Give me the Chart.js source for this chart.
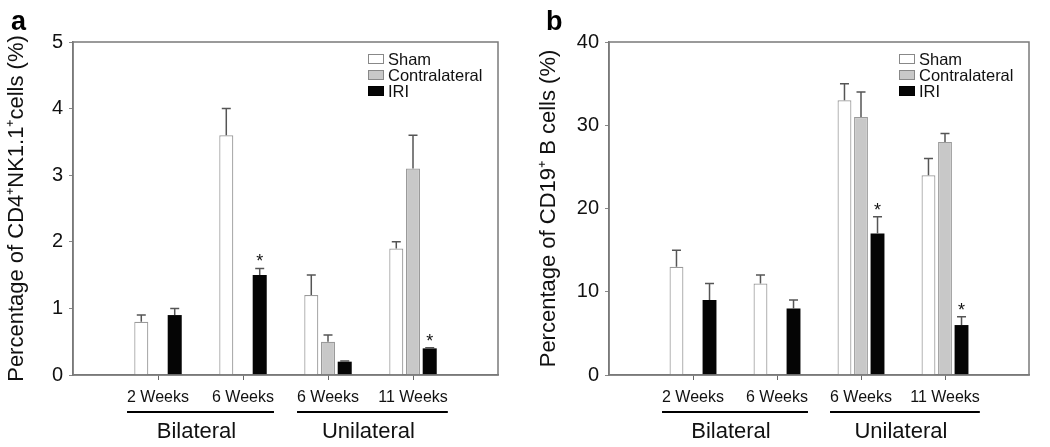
<!DOCTYPE html>
<html>
<head>
<meta charset="utf-8">
<script src="https://cdn.jsdelivr.net/npm/chart.js@4.4.1/dist/chart.umd.min.js"></script>
<style>
  html, body { margin: 0; padding: 0; background: #fff; }
  .panel { position: absolute; top: 0; height: 447px; }
  #panelA { left: 0; width: 520px; }
  #panelB { left: 520px; width: 530px; }
</style>
</head>
<body>
<div class="panel" id="panelA"><canvas id="chartA"></canvas></div>
<div class="panel" id="panelB"><canvas id="chartB"></canvas></div>
<script>
// categories
const weekLabels = ['2 Weeks', '6 Weeks', '6 Weeks', '11 Weeks'];
const groupLabels = ['Bilateral', 'Unilateral'];
const groupSpans = [[0, 1], [2, 3]];
const seriesNames = ['Sham', 'Contralateral', 'IRI'];

// panel a: CD4+NK1.1+ cells (%)
const nkSham = [0.8, 3.6, 1.2, 1.9];
const nkShamErr = [0.1, 0.4, 0.3, 0.1];
const nkContra = [null, null, 0.5, 3.1];
const nkContraErr = [null, null, 0.1, 0.5];
const nkIri = [0.9, 1.5, 0.2, 0.4];
const nkIriErr = [0.1, 0.1, 0.01, 0.01];
const nkIriStar = [false, true, false, true];
const nkTicks = { min: 0, max: 5, step: 1 };

// panel b: CD19+ B cells (%)
const bSham = [13, 11, 33, 24];
const bShamErr = [2, 1, 2, 2];
const bContra = [null, null, 31, 28];
const bContraErr = [null, null, 3, 1];
const bIri = [9, 8, 17, 6];
const bIriErr = [2, 1, 2, 1];
const bIriStar = [false, false, true, true];
const bTicks = { min: 0, max: 40, step: 10 };

const FONT = '"Liberation Sans", Arial, Helvetica, sans-serif';
const pad = arr => [null, ...arr, null];

// box round the plot area
const framePlugin = {
  id: 'frame',
  afterDatasetsDraw(chart) {
    const { ctx, chartArea: a } = chart;
    ctx.save();
    ctx.strokeStyle = '#7a7a7a';
    ctx.lineWidth = 1.5;
    ctx.strokeRect(a.left, a.top, a.right - a.left, a.bottom - a.top);
    ctx.restore();
  }
};

// upward error bars and asterisks
const errorBarPlugin = {
  id: 'errorBars',
  afterDatasetsDraw(chart) {
    const ctx = chart.ctx;
    const y = chart.scales.y;
    chart.data.datasets.forEach((ds, di) => {
      const meta = chart.getDatasetMeta(di);
      meta.data.forEach((bar, i) => {
        const v = ds.data[i];
        const e = ds.errors[i];
        if (v == null || e == null) return;
        const top = y.getPixelForValue(v + e);
        ctx.save();
        ctx.strokeStyle = '#555';
        ctx.lineWidth = 1.5;
        ctx.beginPath();
        ctx.moveTo(bar.x, bar.y);
        ctx.lineTo(bar.x, top);
        ctx.moveTo(bar.x - 4.5, top);
        ctx.lineTo(bar.x + 4.5, top);
        ctx.stroke();
        if (ds.stars && ds.stars[i]) {
          ctx.fillStyle = '#111';
          ctx.font = '18px ' + FONT;
          ctx.textAlign = 'center';
          ctx.textBaseline = 'alphabetic';
          ctx.fillText('*', bar.x, top - 1);
        }
        ctx.restore();
      });
    });
  }
};

// Bilateral / Unilateral lines and labels under the week labels
const groupAxisPlugin = {
  id: 'groupAxis',
  afterDraw(chart) {
    const { ctx } = chart;
    const x = chart.scales.x;
    const base = chart.chartArea.bottom;
    ctx.save();
    groupSpans.forEach(([a, b], g) => {
      ctx.font = '16px ' + FONT;
      const left = x.getPixelForValue(a + 1) - ctx.measureText(weekLabels[a]).width / 2;
      const right = x.getPixelForValue(b + 1) + ctx.measureText(weekLabels[b]).width / 2;
      ctx.strokeStyle = '#000';
      ctx.lineWidth = 2.2;
      ctx.beginPath();
      ctx.moveTo(left, base + 37);
      ctx.lineTo(right, base + 37);
      ctx.stroke();
      ctx.fillStyle = '#111';
      ctx.font = '22px ' + FONT;
      ctx.textAlign = 'center';
      ctx.textBaseline = 'middle';
      ctx.fillText(groupLabels[g], (left + right) / 2 - 4, base + 57);
    });
    ctx.restore();
  }
};

// legend inside the plot, top right
const insideLegendPlugin = {
  id: 'insideLegend',
  afterDraw(chart) {
    const { ctx, chartArea: a } = chart;
    const x0 = a.right - 130;
    ctx.save();
    ctx.font = '16.5px ' + FONT;
    ctx.textBaseline = 'middle';
    chart.data.datasets.forEach((ds, i) => {
      const cy = a.top + 17 + i * 16;
      ctx.fillStyle = ds.backgroundColor;
      ctx.fillRect(x0, cy - 5, 16, 10);
      ctx.strokeStyle = ds.legendBorder;
      ctx.lineWidth = 1;
      ctx.strokeRect(x0 + 0.5, cy - 4.5, 15, 9);
      ctx.fillStyle = '#111';
      ctx.fillText(ds.label, x0 + 20, cy + 1);
    });
    ctx.restore();
  }
};

const panelLetterPlugin = {
  id: 'panelLetter',
  afterDraw(chart, args, opts) {
    const ctx = chart.ctx;
    ctx.save();
    ctx.fillStyle = '#000';
    ctx.font = 'bold 27px ' + FONT;
    ctx.textBaseline = 'alphabetic';
    ctx.fillText(opts.text, opts.x, opts.y);
    ctx.restore();
  }
};

function buildChart(canvasId, cfg) {
  return new Chart(document.getElementById(canvasId), {
    type: 'bar',
    data: {
      labels: ['', ...weekLabels, ''],
      datasets: [
        { label: seriesNames[0], data: pad(cfg.sham), errors: pad(cfg.shamErr),
          backgroundColor: '#ffffff', borderColor: '#9a9a9a', borderWidth: 1.2, legendBorder: '#888' },
        { label: seriesNames[1], data: pad(cfg.contra), errors: pad(cfg.contraErr),
          backgroundColor: '#c8c8c8', borderColor: '#9a9a9a', borderWidth: 1.2, legendBorder: '#888' },
        { label: seriesNames[2], data: pad(cfg.iri), errors: pad(cfg.iriErr), stars: pad(cfg.iriStar),
          backgroundColor: '#050505', borderColor: '#050505', borderWidth: 0, legendBorder: '#000' }
      ]
    },
    options: {
      responsive: true,
      maintainAspectRatio: false,
      devicePixelRatio: 1,
      animation: false,
      categoryPercentage: 0.59,
      barPercentage: 0.84,
      layout: { padding: { left: 0, right: cfg.padRight, top: 42, bottom: 0 } },
      plugins: {
        legend: { display: false },
        tooltip: { enabled: false },
        panelLetter: cfg.letter
      },
      scales: {
        x: {
          offset: false,
          afterFit: s => { s.height = 72; },
          border: { color: '#7a7a7a', width: 1.5 },
          grid: {
            offset: false,
            drawOnChartArea: false,
            tickLength: 5,
            tickColor: c => (c.index === 0 || c.index === weekLabels.length + 1) ? 'rgba(0,0,0,0)' : '#666'
          },
          ticks: { color: '#111', font: { family: FONT, size: 16 }, padding: 8, autoSkip: false, maxRotation: 0 }
        },
        y: {
          min: cfg.ticks.min,
          max: cfg.ticks.max,
          afterFit: s => { s.width = cfg.yWidth; },
          border: { color: '#7a7a7a', width: 1.5 },
          grid: { drawOnChartArea: false, tickLength: 4, tickColor: '#888' },
          ticks: { stepSize: cfg.ticks.step, color: '#111', font: { family: FONT, size: 20 }, padding: 6 },
          title: {
            display: true,
            text: cfg.title,
            color: '#111',
            font: { family: FONT, size: 22 },
            padding: { top: cfg.titlePad, bottom: 0 }
          }
        }
      }
    },
    plugins: [framePlugin, errorBarPlugin, groupAxisPlugin, insideLegendPlugin, panelLetterPlugin]
  });
}

buildChart('chartA', {
  sham: nkSham, shamErr: nkShamErr, contra: nkContra, contraErr: nkContraErr,
  iri: nkIri, iriErr: nkIriErr, iriStar: nkIriStar, ticks: nkTicks,
  title: 'Percentage of CD4\u207ANK1.1\u207Acells (%)',
  yWidth: 73, padRight: 22, titlePad: 4,
  letter: { text: 'a', x: 11, y: 30 }
});

buildChart('chartB', {
  sham: bSham, shamErr: bShamErr, contra: bContra, contraErr: bContraErr,
  iri: bIri, iriErr: bIriErr, iriStar: bIriStar, ticks: bTicks,
  title: 'Percentage of CD19\u207A B cells (%)',
  yWidth: 89, padRight: 21, titlePad: 16,
  letter: { text: 'b', x: 26, y: 30 }
});
</script>
</body>
</html>
